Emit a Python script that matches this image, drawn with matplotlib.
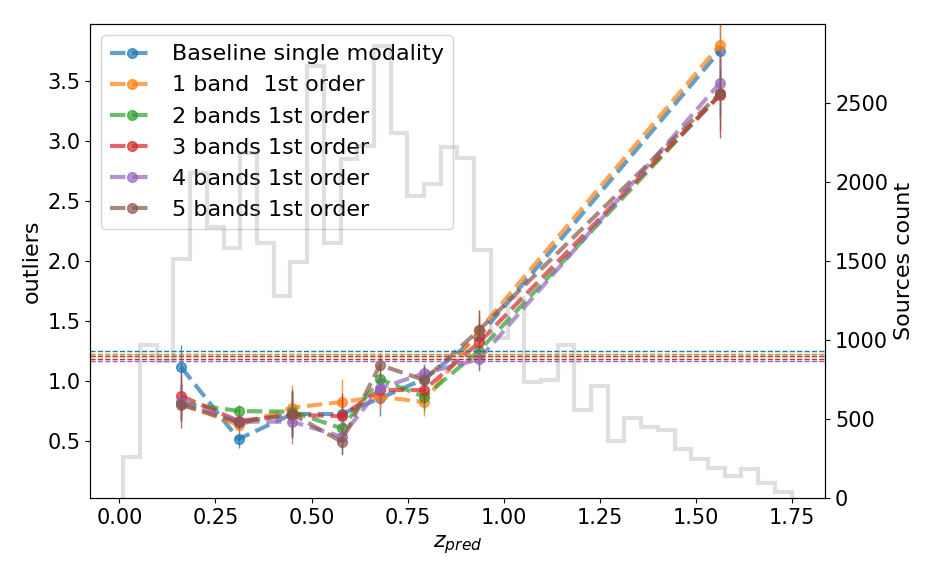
import numpy as np
import matplotlib.pyplot as plt

# redshift bin centres where outlier fractions were computed
z_bins = [0.161, 0.310, 0.450, 0.578, 0.678, 0.793, 0.936, 1.563]

labels = ['Baseline single modality', '1 band  1st order', '2 bands 1st order',
          '3 bands 1st order', '4 bands 1st order', '5 bands 1st order']

out_base = [1.112, 0.513, 0.722, 0.722, 0.853, 1.014, 1.373, 3.755]
out_b1 = [0.810, 0.630, 0.775, 0.822, 0.866, 0.822, 1.420, 3.804]
out_b2 = [0.816, 0.747, 0.741, 0.603, 1.012, 0.866, 1.250, 3.390]
out_b3 = [0.872, 0.664, 0.714, 0.705, 0.922, 0.922, 1.320, 3.385]
out_b4 = [0.825, 0.658, 0.658, 0.533, 0.937, 1.062, 1.179, 3.487]
out_b5 = [0.797, 0.653, 0.722, 0.491, 1.131, 1.006, 1.423, 3.399]

err_base = [0.19, 0.077, 0.19, 0.15, 0.15, 0.12, 0.17, 0.35]
err_b1 = [0.15, 0.06, 0.19, 0.19, 0.12, 0.12, 0.17, 0.35]
err_b2 = [0.15, 0.05, 0.19, 0.15, 0.12, 0.12, 0.17, 0.30]
err_b3 = [0.19, 0.06, 0.19, 0.19, 0.12, 0.12, 0.17, 0.36]
err_b4 = [0.15, 0.06, 0.19, 0.15, 0.12, 0.075, 0.085, 0.30]
err_b5 = [0.19, 0.06, 0.19, 0.10, 0.10, 0.12, 0.17, 0.20]

# overall outlier rate per model
overall = [1.245, 1.225, 1.203, 1.181, 1.162, 1.203]

# source counts of z_pred histogram (40 bins)
hist_edges = np.linspace(0.0104, 1.749, 41)
hist_counts = [260, 969, 868, 1509, 2054, 1714, 1583, 2180, 1615, 1277,
               1492, 2730, 1615, 2142, 2223, 2860, 2307, 1910, 1984, 2220,
               2153, 1568, 1013, 1267, 738, 745, 966, 559, 707, 365,
               507, 453, 433, 310, 247, 190, 141, 186, 99, 42]

outs = [out_base, out_b1, out_b2, out_b3, out_b4, out_b5]
errs = [err_base, err_b1, err_b2, err_b3, err_b4, err_b5]

fig = plt.figure(figsize=(9.36, 5.76), dpi=100)
ax = fig.add_axes([0.0962, 0.1349, 0.7856, 0.8229])

for i in range(len(outs)):
    c = 'C%d' % i
    ax.errorbar(z_bins, outs[i], yerr=errs[i], fmt='none', ecolor=c, elinewidth=1, alpha=0.8)
    ax.plot(z_bins, outs[i], 'o--', color=c, lw=3, ms=7, alpha=0.7, label=labels[i])
for i in range(len(overall)):
    ax.axhline(overall[i], color='C%d' % i, ls='--', lw=1)

ax.set_ylim(0.0184, 3.975)
ax.set_xlim(-0.0763, 1.837)
ax.set_ylabel('outliers', fontsize=16)
ax.set_xlabel(r'$z_{pred}$', fontsize=16)
ax.tick_params(labelsize=15)
ax.legend(loc='upper left', fontsize=16)

ax2 = ax.twinx()
ax2.hist(hist_edges[:-1], bins=hist_edges, weights=hist_counts, histtype='step',
         color='gray', alpha=0.25, lw=3)
ax2.set_ylim(0, 2995)
ax2.set_ylabel('Sources count', fontsize=16)
ax2.tick_params(labelsize=15)

plt.savefig('out.png', dpi=100)
